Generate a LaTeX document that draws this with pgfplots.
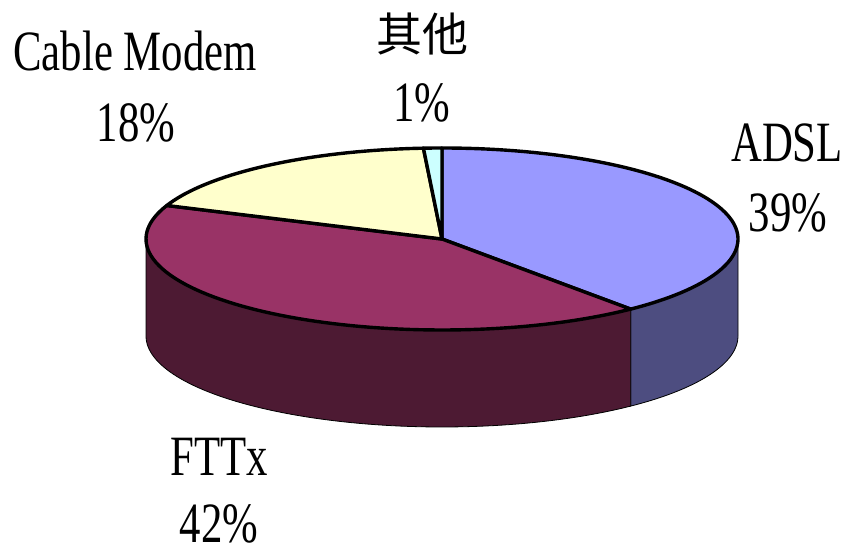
\documentclass[border=0pt]{standalone}
\usepackage{pgfplots}
\usepackage{pgfplotstable}
\pgfplotsset{compat=1.18}
\usepgfplotslibrary{fillbetween}
\usepackage{fontspec}
\setmainfont{Liberation Serif}[FakeStretch=0.75]
\newfontfamily\cjk{Noto Sans CJK SC}
\definecolor{adslTop}{RGB}{153,153,255}
\definecolor{adslSide}{RGB}{77,77,128}
\definecolor{fttxTop}{RGB}{153,51,102}
\definecolor{fttxSide}{RGB}{77,26,51}
\definecolor{cableTop}{RGB}{255,255,204}
\definecolor{otherTop}{RGB}{204,255,255}
\pgfplotstableread{
label value
ADSL 39
FTTx 42
Cable 18
Other 1
}\piedata
\pgfplotstablegetelem{0}{value}\of\piedata \let\vA\pgfplotsretval
\pgfplotstablegetelem{1}{value}\of\piedata \let\vF\pgfplotsretval
\pgfplotstablegetelem{2}{value}\of\piedata \let\vC\pgfplotsretval
\pgfplotstablegetelem{3}{value}\of\piedata \let\vO\pgfplotsretval
\pgfmathsetmacro\aA{90}
\pgfmathsetmacro\aB{\aA-3.6*\vA}
\pgfmathsetmacro\aC{\aB-3.6*\vF}
\pgfmathsetmacro\aD{\aC-3.6*\vC}
\pgfmathsetmacro\aE{\aD-3.6*\vO}
\def\cx{442}\def\cy{317}\def\rx{296}\def\ry{91}\def\dep{97}
\begin{document}
\begin{tikzpicture}
\begin{axis}[width=422.5pt, height=278pt, scale only axis,
  xmin=0, xmax=845, ymin=0, ymax=556, hide axis, clip=false,
  every axis plot/.append style={line width=1.7pt, line join=round}]
\addplot[draw=none, forget plot] coordinates {(0,0) (845,556)};
% sides
\addplot[name path=aT, draw=none, domain=\aB:0, samples=40, variable=\t] ({\cx+\rx*cos(\t)},{\cy+\ry*sin(\t)});
\addplot[name path=aS, draw=none, domain=\aB:0, samples=40, variable=\t] ({\cx+\rx*cos(\t)},{\cy-\dep+\ry*sin(\t)});
\addplot[fill=adslSide, draw=black] fill between[of=aT and aS];
\addplot[name path=fT, draw=none, domain=-180:\aB, samples=80, variable=\t] ({\cx+\rx*cos(\t)},{\cy+\ry*sin(\t)});
\addplot[name path=fS, draw=none, domain=-180:\aB, samples=80, variable=\t] ({\cx+\rx*cos(\t)},{\cy-\dep+\ry*sin(\t)});
\addplot[fill=fttxSide, draw=black] fill between[of=fT and fS];
% tops
\addplot[fill=adslTop, draw=black, domain=\aB:\aA, samples=80, variable=\t] ({\cx+\rx*cos(\t)},{\cy+\ry*sin(\t)}) -- (axis cs:\cx,\cy) -- cycle;
\addplot[fill=fttxTop, draw=black, domain=\aC:\aB, samples=80, variable=\t] ({\cx+\rx*cos(\t)},{\cy+\ry*sin(\t)}) -- (axis cs:\cx,\cy) -- cycle;
\addplot[fill=cableTop, draw=black, domain=\aD:\aC, samples=40, variable=\t] ({\cx+\rx*cos(\t)},{\cy+\ry*sin(\t)}) -- (axis cs:\cx,\cy) -- cycle;
\addplot[fill=otherTop, draw=black, domain=\aE:\aD, samples=5, variable=\t] ({\cx+\rx*cos(\t)},{\cy+\ry*sin(\t)}) -- (axis cs:\cx,\cy) -- cycle;
% labels
\begin{scope}[every node/.style={anchor=base, inner sep=0pt, font=\fontsize{28.5}{34}\selectfont}]
\node at (axis cs:135,485) {Cable Modem};
\node at (axis cs:136,414) {18\%};
\node at (axis cs:422,504) {\cjk\fontsize{23}{28}\selectfont 其他};
\node at (axis cs:422,434) {1\%};
\node at (axis cs:787,394) {ADSL};
\node at (axis cs:788,324) {39\%};
\node at (axis cs:219,80) {FTTx};
\node at (axis cs:219,13) {42\%};
\end{scope}
\end{axis}
\end{tikzpicture}
\end{document}
